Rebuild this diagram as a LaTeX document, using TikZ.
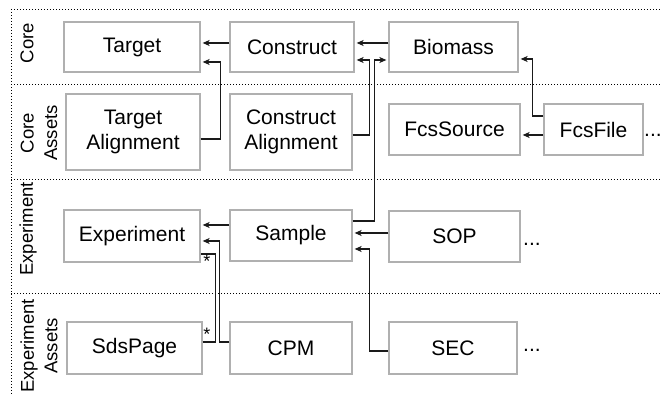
\documentclass[tikz,border=0pt]{standalone}
\usepackage{fontspec}
\setmainfont{Liberation Sans}
\usetikzlibrary{arrows.meta,calc}
\definecolor{boxgray}{HTML}{B0B0B0}
\definecolor{linecol}{HTML}{1A1A1A}
\begin{document}
\begin{tikzpicture}[x=1pt,y=-1pt,
  box/.style={draw=boxgray,line width=1.3pt,inner sep=0pt,align=center,
    font=\fontsize{21}{24.5}\selectfont},
  conn/.style={draw=linecol,line width=1.2pt},
  arr/.style={conn,-{Stealth[length=7pt,width=6pt,inset=2pt]},shorten >=2pt},
  dotline/.style={draw=black,line width=0.9pt,dash pattern=on 0.9pt off 2.1pt},
  lab/.style={rotate=90,inner sep=0pt,align=center,font=\fontsize{18.5}{23.5}\selectfont},
  ell/.style={anchor=base west,inner sep=0pt,font=\fontsize{21}{24}\selectfont},
  star/.style={inner sep=0pt,font=\fontsize{18}{18}\selectfont}]
\useasboundingbox (0,0) rectangle (662,395);
% dotted separators
\draw[dotline] (11,9) -- (662,9);
\draw[dotline] (11,84) -- (662,84);
\draw[dotline] (11,179) -- (662,179);
\draw[dotline] (11,293) -- (662,293);
\draw[dotline] (11,9) -- (11,395);
% row labels
\node[lab] (lcore) at (27,43) {Core};
\node[lab] (lcoreassets) at (39,133) {Core\\Assets};
\node[lab] (lexp) at (28,229) {Experiment};
\node[lab] (lexpassets) at (39,346) {Experiment\\Assets};
% boxes
\node[box,minimum width=136pt,minimum height=50pt] (target) at (132,47) {Target};
\node[box,minimum width=124pt,minimum height=50pt] (construct) at (292,47) {Construct};
\node[box,minimum width=129pt,minimum height=50pt] (biomass) at (453.5,47) {Biomass};
\node[box,minimum width=134pt,minimum height=76pt] (talign) at (133,132) {Target\\Alignment};
\node[box,minimum width=122pt,minimum height=76pt] (calign) at (291,132) {Construct\\Alignment};
\node[box,minimum width=131pt,minimum height=51pt] (fcssource) at (454.5,129.5) {FcsSource};
\node[box,minimum width=99pt,minimum height=51pt] (fcsfile) at (593.5,129.5) {FcsFile};
\node[box,minimum width=136pt,minimum height=52pt] (experiment) at (132,236) {Experiment};
\node[box,minimum width=122pt,minimum height=51pt] (sample) at (291,235.5) {Sample};
\node[box,minimum width=131pt,minimum height=51pt] (sop) at (454.5,236.5) {SOP};
\node[box,minimum width=135pt,minimum height=52pt] (sdspage) at (134.5,348) {SdsPage};
\node[box,minimum width=122pt,minimum height=52pt] (cpm) at (291,348) {CPM};
\node[box,minimum width=128pt,minimum height=52pt] (sec) at (453,348) {SEC};
% ellipses
\node[ell] (dots1) at (644,137) {...};
\node[ell] (dots2) at (523,246) {...};
\node[ell] (dots3) at (523,352) {...};
% connectors
\draw[arr] ([yshift=4pt]construct.west) -- ([yshift=4pt]target.east);
\draw[arr] ([yshift=-7pt]talign.east) -- ++(20,0) |- ([yshift=-15pt]target.east);
\draw[arr] ([yshift=4pt]biomass.west) -- ([yshift=4pt]construct.east);
\draw[arr] ([yshift=-3pt]calign.east) -- ++(17,0) |- ([yshift=-13pt]construct.east);
\draw[arr] ([yshift=14.5pt]sample.east) -- ++(22,0) |- ([yshift=-13pt]biomass.west);
\draw[arr] ([yshift=13.5pt]fcsfile.west) -- ++(-11,0) |- ([yshift=-12pt]biomass.east);
\draw[arr] ([yshift=-5.5pt]fcsfile.west) -- ([yshift=-5.5pt]fcssource.east);
\draw[arr] ([yshift=10.5pt]sample.west) -- ([yshift=11pt]experiment.east);
\draw[arr] ([yshift=6pt]cpm.west) -- ++(-10,0) |- ([yshift=-5pt]experiment.east);
\draw[conn] ([yshift=6pt]sdspage.east) -- ++(13,0) |- ([yshift=-18pt]experiment.east);
\draw[arr] ([yshift=3.5pt]sop.west) -- ([yshift=2.5pt]sample.east);
\draw[arr] ([yshift=-3pt]sec.west) -- ++(-19,0) |- ([yshift=-13.5pt]sample.east);
% multiplicity stars
\node[star] (star1) at (207,261) {*};
\node[star] (star2) at (207,334) {*};
\end{tikzpicture}
\end{document}
